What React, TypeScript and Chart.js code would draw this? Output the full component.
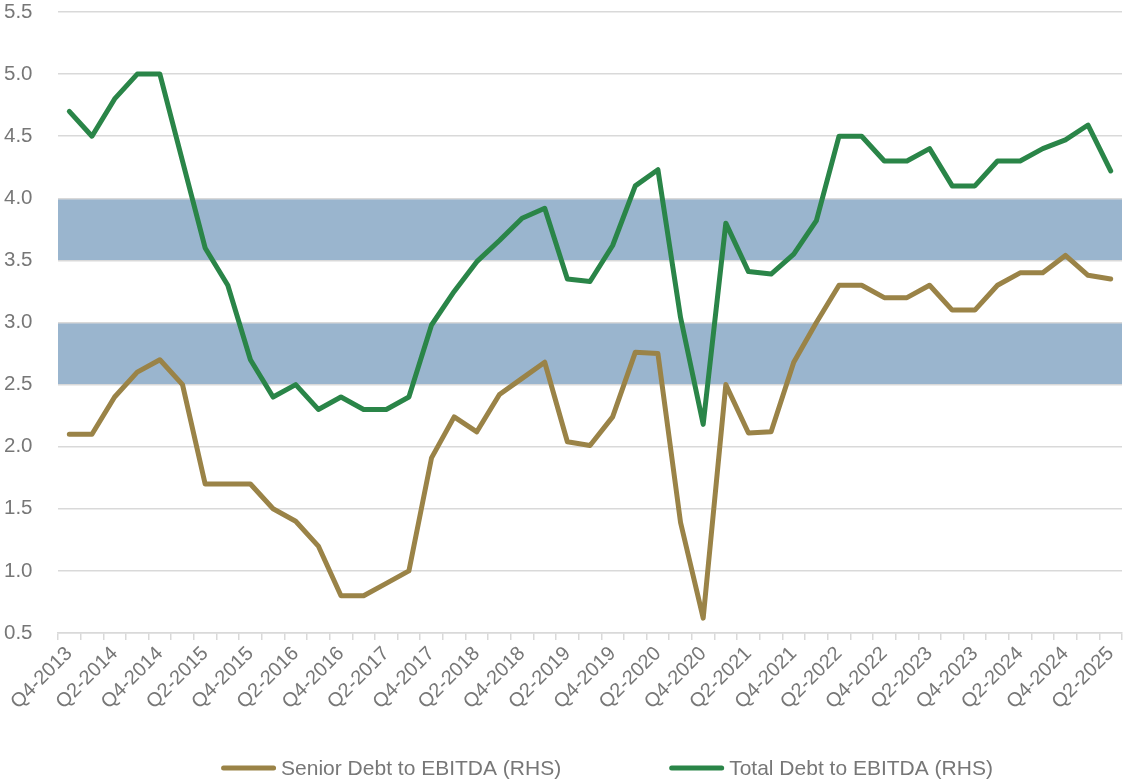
import React, { useEffect, useRef } from 'react';
import { Chart, registerables } from 'chart.js';

Chart.register(...registerables);

const categories = [
  'Q4-2013',
  'Q1-2014', 'Q2-2014', 'Q3-2014', 'Q4-2014',
  'Q1-2015', 'Q2-2015', 'Q3-2015', 'Q4-2015',
  'Q1-2016', 'Q2-2016', 'Q3-2016', 'Q4-2016',
  'Q1-2017', 'Q2-2017', 'Q3-2017', 'Q4-2017',
  'Q1-2018', 'Q2-2018', 'Q3-2018', 'Q4-2018',
  'Q1-2019', 'Q2-2019', 'Q3-2019', 'Q4-2019',
  'Q1-2020', 'Q2-2020', 'Q3-2020', 'Q4-2020',
  'Q1-2021', 'Q2-2021', 'Q3-2021', 'Q4-2021',
  'Q1-2022', 'Q2-2022', 'Q3-2022', 'Q4-2022',
  'Q1-2023', 'Q2-2023', 'Q3-2023', 'Q4-2023',
  'Q1-2024', 'Q2-2024', 'Q3-2024', 'Q4-2024',
  'Q1-2025', 'Q2-2025',
];

const seniorDebt = [
  2.1,
  2.1, 2.4, 2.6, 2.7,
  2.5, 1.7, 1.7, 1.7,
  1.5, 1.4, 1.2, 0.8,
  0.8, 0.9, 1.0, 1.91,
  2.24, 2.12, 2.42, 2.55,
  2.68, 2.04, 2.01, 2.24,
  2.76, 2.75, 1.39, 0.62,
  2.5, 2.11, 2.12, 2.68,
  3.0, 3.3, 3.3, 3.2,
  3.2, 3.3, 3.1, 3.1,
  3.3, 3.4, 3.4, 3.54,
  3.38, 3.35,
];

const totalDebt = [
  4.7,
  4.5, 4.8, 5.0, 5.0,
  4.3, 3.6, 3.3, 2.7,
  2.4, 2.5, 2.3, 2.4,
  2.3, 2.3, 2.4, 2.98,
  3.25, 3.49, 3.66, 3.84,
  3.92, 3.35, 3.33, 3.62,
  4.1, 4.23, 3.04, 2.18,
  3.8, 3.41, 3.39, 3.55,
  3.82, 4.5, 4.5, 4.3,
  4.3, 4.4, 4.1, 4.1,
  4.3, 4.3, 4.4, 4.47,
  4.59, 4.22,
];

const bandLows = [2.5, 3.5];
const bandHighs = [3.0, 4.0];

const yMin = 0.5;
const yMax = 5.5;
const yStep = 0.5;

const seriesNames = ['Senior Debt to EBITDA (RHS)', 'Total Debt to EBITDA (RHS)'];

const FONT = '"Liberation Sans", Arial, sans-serif';
const TEXT_COLOR = '#777777';
const GRID_COLOR = '#d9d9d9';
const BAND_COLOR = '#9ab5ce';
const GOLD = '#9a8347';
const GREEN = '#2a8548';

const bandPlugin = {
  id: 'bands',
  beforeDraw(chart: any) {
    const { ctx, chartArea, scales } = chart;
    const y = scales.y;
    ctx.save();
    ctx.fillStyle = BAND_COLOR;
    for (let i = 0; i < bandLows.length; i++) {
      const top = y.getPixelForValue(bandHighs[i]);
      const bottom = y.getPixelForValue(bandLows[i]);
      ctx.fillRect(chartArea.left, top, chartArea.right - chartArea.left, bottom - top);
    }
    ctx.restore();
  },
};

const legendPlugin = {
  id: 'lineLegend',
  afterDraw(chart: any) {
    const { ctx } = chart;
    ctx.save();
    ctx.font = `21px ${FONT}`;
    ctx.textBaseline = 'middle';
    ctx.textAlign = 'left';
    const lineW = 55;
    const gapText = 5;
    const gapItem = 108;
    const items = chart.data.datasets.map((ds: any) => ({ label: ds.label, color: ds.borderColor }));
    const widths = items.map((it: any) => lineW + gapText + ctx.measureText(it.label).width);
    const total = widths.reduce((a: number, b: number) => a + b, 0) + gapItem * (items.length - 1);
    let x = 607 - total / 2;
    const y = 768;
    items.forEach((it: any, i: number) => {
      ctx.strokeStyle = it.color;
      ctx.lineWidth = 5;
      ctx.lineCap = 'round';
      ctx.beginPath();
      ctx.moveTo(x + 2.5, y);
      ctx.lineTo(x + lineW - 2.5, y);
      ctx.stroke();
      ctx.fillStyle = TEXT_COLOR;
      ctx.fillText(it.label, x + lineW + gapText, y + 1);
      x += widths[i] + gapItem;
    });
    ctx.restore();
  },
};

export default function App() {
  const canvasRef = useRef<HTMLCanvasElement | null>(null);

  useEffect(() => {
    if (!canvasRef.current) return;
    const chart = new Chart(canvasRef.current, {
      type: 'line',
      data: {
        labels: categories,
        datasets: [
          {
            label: seriesNames[0],
            data: seniorDebt,
            borderColor: GOLD,
            backgroundColor: GOLD,
            borderWidth: 5,
            pointRadius: 0,
            pointHoverRadius: 0,
            tension: 0,
            borderJoinStyle: 'round',
            borderCapStyle: 'round',
            fill: false,
          },
          {
            label: seriesNames[1],
            data: totalDebt,
            borderColor: GREEN,
            backgroundColor: GREEN,
            borderWidth: 5,
            pointRadius: 0,
            pointHoverRadius: 0,
            tension: 0,
            borderJoinStyle: 'round',
            borderCapStyle: 'round',
            fill: false,
          },
        ],
      },
      options: {
        animation: false,
        responsive: true,
        maintainAspectRatio: false,
        layout: { padding: { left: 4, right: 1, top: 12, bottom: 51 } },
        plugins: {
          legend: { display: false },
          tooltip: { enabled: false },
          title: { display: false },
        },
        scales: {
          x: {
            type: 'category',
            offset: true,
            grid: {
              display: true,
              offset: true,
              drawOnChartArea: false,
              drawTicks: true,
              tickLength: 7,
              color: GRID_COLOR,
              lineWidth: 1.5,
            },
            border: { display: true, color: GRID_COLOR, width: 1.5 },
            ticks: {
              autoSkip: false,
              maxRotation: 45,
              minRotation: 45,
              padding: 2,
              color: TEXT_COLOR,
              font: { family: FONT, size: 20 },
              callback: (_v: any, i: number) => (i % 2 === 0 ? categories[i] : ''),
            },
            afterFit: (scale: any) => {
              scale.height = 100;
              scale.paddingLeft = 0;
              scale.paddingRight = 0;
            },
          },
          y: {
            min: yMin,
            max: yMax,
            border: { display: false },
            grid: {
              color: GRID_COLOR,
              lineWidth: 1.5,
              drawTicks: false,
            },
            ticks: {
              stepSize: yStep,
              crossAlign: 'far',
              padding: 0,
              color: TEXT_COLOR,
              font: { family: FONT, size: 20.5 },
              callback: (v: any) => Number(v).toFixed(1),
            },
            afterFit: (scale: any) => {
              scale.width = 54;
              scale.paddingTop = 0;
              scale.paddingBottom = 0;
            },
          },
        },
      },
      plugins: [bandPlugin, legendPlugin],
    } as any);
    return () => chart.destroy();
  }, []);

  return (
    <div style={{ position: 'absolute', left: 0, top: 0, width: 1123, height: 784, background: '#fff' }}>
      <canvas ref={canvasRef} />
    </div>
  );
}
